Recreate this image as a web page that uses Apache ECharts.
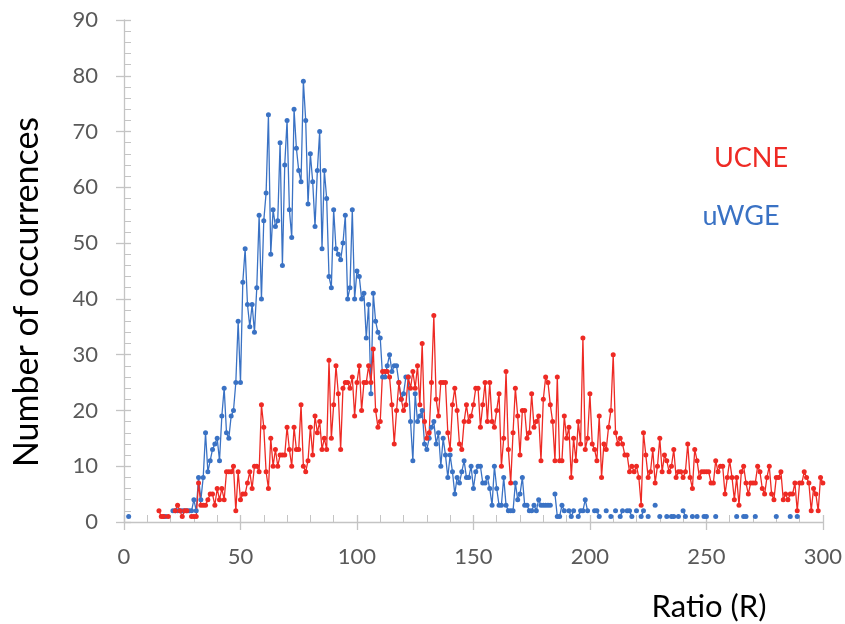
<!DOCTYPE html>
<html>
<head>
    <meta charset="utf-8" />
    <title></title>
    <script src="https://cdn.jsdelivr.net/npm/echarts@6/dist/echarts.min.js"></script>
</head>
<body style="margin:0;background:#fff;">
    <div id="main" style="width: 845px;height:624px;"></div>
    <script type="text/javascript">
        // counts per ratio value, null = no occurrence (gap in the line)
        var uwgeStart = 1;
        var uwgeCounts = [
            null, 1, null, null, null, null, null, null, null, null,
            null, null, null, null, null, null, 1, 1, null, null,
            2, 2, 2, 2, 2, 2, 2, 2, 2, 4,
            2, 8, 4, 8, 16, 9, 11, 13, 14, 15,
            11, 19, 24, 16, 15, 19, 20, 25, 36, 25,
            43, 49, 39, 35, 39, 34, 42, 55, 40, 54,
            59, 73, 48, 56, 53, 54, 68, 46, 64, 72,
            56, 51, 74, 67, 63, 61, 79, 72, 57, 66,
            61, 53, 63, 70, 49, 63, 58, 44, 42, 56,
            49, 48, 47, 50, 55, 40, 42, 56, 40, 45,
            44, 40, 41, 33, 39, 23, 41, 36, 34, 33,
            26, 26, 28, 30, 27, 28, 28, 25, 22, 23,
            26, 26, 18, 11, 23, 18, 19, 20, 14, 13,
            15, 17, 18, 14, 16, 10, 15, 12, 8, 12,
            9, 5, 8, 7, 9, 11, 8, 8, 10, 6,
            9, 10, 10, 7, 7, 8, 6, 3, 10, 6,
            3, 3, 8, 3, 2, 2, 2, 7, 4, 5,
            8, 3, 3, 2, 2, 3, 2, 4, 3, 3,
            3, 3, 3, null, 5, 1, 1, 3, 2, null,
            2, 1, 2, null, 1, 2, 2, 4, 2, null,
            null, 2, 2, 1, null, null, 2, null, 1, null,
            2, null, 1, 2, null, 2, 2, 1, null, 2,
            null, 1, 2, null, 1, null, null, 3, null, 1,
            null, null, 1, null, 1, 1, null, 1, null, 2,
            1, null, null, 1, null, 1, null, null, 1, 1,
            null, null, null, 1, null, null, null, null, null, null,
            null, null, 1, null, null, 1, 1, null, null, null,
            1, null, null, null, null, null, null, null, null, 1,
            null, null, null, null, null, 1, null, null, 1, null
        ];

        var ucneStart = 15;
        var ucneCounts = [
            2, 1, 1, null, 1, null, null, 2, 3, 2,
            1, 2, 2, null, 1, 1, 1, 7, 3, 3,
            3, 4, 5, 5, 3, 6, 4, 6, 4, 9,
            9, 9, 10, 2, 9, 4, 5, 5, 7, 9,
            6, 10, 10, 9, 21, 17, 9, 6, 15, 10,
            13, 10, 12, 12, 12, 17, 13, 10, 17, 13,
            13, 21, 10, 9, 11, 17, 12, 19, 16, 18,
            13, 15, 13, 29, 15, 21, 28, 23, 13, 24,
            25, 25, 24, 26, 19, 25, 28, 20, 25, 25,
            28, 25, 31, 20, 17, 18, 27, 27, 27, 26,
            21, 14, 20, 25, 22, 20, 21, 26, 24, 27,
            24, 28, 21, 32, 18, 15, 16, 25, 37, 22,
            19, 25, 25, 25, 16, 13, 21, 24, 20, 14,
            13, 18, 21, 18, 19, 21, 24, 24, 17, 21,
            25, 18, 25, 18, 17, 20, 23, 10, 15, 27,
            13, 7, 16, 24, 19, 12, 20, 20, 15, 16,
            23, 17, 18, 19, 11, 22, 26, 25, 21, 18,
            11, 26, 11, 11, 19, 15, 17, 8, 15, 11,
            18, 14, 33, 13, 15, 23, 14, 13, 11, 19,
            8, 14, 13, 17, 20, 30, 16, 14, 15, 14,
            12, 12, 9, 10, 9, 10, 8, 3, 16, 12,
            8, 9, 13, 7, 10, 15, 9, 12, 11, 9,
            10, 13, 8, 9, 9, 8, 9, 14, 8, 6,
            13, 11, 8, 9, 9, 9, 9, 7, 7, 11,
            9, 10, 10, 5, 8, 11, 8, 4, 8, 3,
            9, 10, 7, 5, 7, 7, 7, 10, 9, 6,
            5, 8, 10, 5, 4, 8, 8, 9, 4, 5,
            4, 5, 5, 7, 2, 7, 7, 9, 8, 7,
            2, 6, 5, 2, 8, 7
        ];

        var font = 'Lato, "Open Sans", sans-serif';
        var axisGray = '#c4c4c4';
        var labelGray = '#595959';

        function toPairs(start, counts) {
            return counts.map(function (v, i) {
                return [start + i, v === null ? '-' : v];
            });
        }

        function lineSeries(name, color, data) {
            return {
                name: name,
                type: 'line',
                data: data,
                symbol: 'circle',
                symbolSize: 5,
                showAllSymbol: true,
                connectNulls: false,
                animation: false,
                lineStyle: { color: color, width: 1.3 },
                itemStyle: { color: color }
            };
        }

        // second copy of an axis, only to draw the inner half of the major ticks
        function innerTicks(base, position) {
            return {
                type: 'value',
                position: position,
                min: base.min,
                max: base.max,
                interval: base.interval,
                axisLine: { show: false },
                axisTick: { show: true, inside: true, length: 7, lineStyle: { color: axisGray, width: 1.3 } },
                axisLabel: { show: false },
                splitLine: { show: false }
            };
        }

        var xMain = {
            type: 'value',
            position: 'bottom',
            min: 0,
            max: 300,
            interval: 50,
            axisLine: { lineStyle: { color: axisGray, width: 1.3 } },
            axisTick: { show: true, length: 8, lineStyle: { color: axisGray, width: 1.3 } },
            minorTick: { show: true, splitNumber: 5, length: -7, lineStyle: { color: axisGray, width: 1 } },
            splitLine: { show: false },
            axisLabel: { fontSize: 22, color: labelGray, fontFamily: font, margin: 24 }
        };

        var yMain = {
            type: 'value',
            position: 'left',
            min: 0,
            max: 90,
            interval: 10,
            axisLine: { show: true, lineStyle: { color: axisGray, width: 1.3 } },
            axisTick: { show: true, length: 8, lineStyle: { color: axisGray, width: 1.3 } },
            minorTick: { show: true, splitNumber: 5, length: -7, lineStyle: { color: axisGray, width: 1 } },
            splitLine: { show: false },
            axisLabel: { fontSize: 22, color: labelGray, fontFamily: font, margin: 26 }
        };

        var myChart = echarts.init(document.getElementById('main'));

        myChart.setOption({
            backgroundColor: '#ffffff',
            grid: { left: 124, right: 22, top: 20, bottom: 102 },
            xAxis: [xMain, innerTicks(xMain, 'bottom')],
            yAxis: [yMain, innerTicks(yMain, 'left')],
            graphic: [
                {
                    type: 'text', x: 27, y: 292, rotation: Math.PI / 2,
                    style: {
                        text: 'Number of occurrences', fontSize: 34, fontFamily: font,
                        fill: '#000', align: 'center', verticalAlign: 'middle'
                    }
                },
                {
                    type: 'text', x: 709, y: 607,
                    style: {
                        text: 'Ratio (R)', fontSize: 31, fontFamily: font,
                        fill: '#000', align: 'center', verticalAlign: 'middle'
                    }
                },
                {
                    type: 'text', x: 751, y: 158,
                    style: {
                        text: 'UCNE', fontSize: 27, fontFamily: font,
                        fill: '#ee2a24', align: 'center', verticalAlign: 'middle'
                    }
                },
                {
                    type: 'text', x: 741, y: 216,
                    style: {
                        text: 'uWGE', fontSize: 27, fontFamily: font,
                        fill: '#3a72c4', align: 'center', verticalAlign: 'middle'
                    }
                }
            ],
            series: [
                lineSeries('uWGE', '#3a72c4', toPairs(uwgeStart, uwgeCounts)),
                lineSeries('UCNE', '#ee2a24', toPairs(ucneStart, ucneCounts))
            ]
        });
    </script>
</body>
</html>
